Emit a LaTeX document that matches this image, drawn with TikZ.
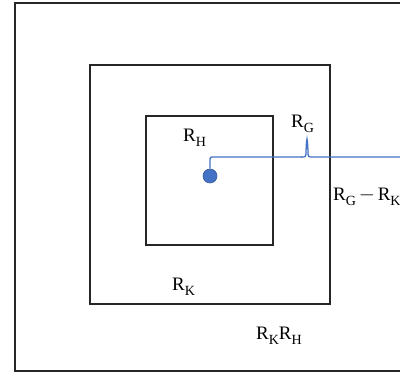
\documentclass[tikz,border=0pt]{standalone}
\usepackage{fontspec}
\setmainfont{Liberation Serif}
\definecolor{lineblue}{HTML}{4472C4}
\definecolor{boxgray}{HTML}{262626}
\newcommand{\Rsub}[1]{R\raisebox{-0.22em}{\fontsize{14}{15}\selectfont #1}}
\begin{document}
\begin{tikzpicture}[x=1pt,y=-1pt,
  boxline/.style={draw=boxgray,line width=1.6pt},
  lab/.style={anchor=base west,inner sep=0pt,font=\fontsize{19}{21}\selectfont},
  bluel/.style={draw=lineblue,line width=1.3pt,rounded corners=2pt}]
\useasboundingbox (0,0) rectangle (400,374);
\clip (0,0) rectangle (400,374);
% regions
\draw[boxline] (15,3) rectangle (420,371);
\draw[boxline] (90,65) rectangle (330,304);
\draw[boxline] (146,116) rectangle (273,245);
% labels
\node[lab] (rh) at (183,142) {\Rsub{H}};
\node[lab] (rg) at (291,128) {\Rsub{G}};
\node[lab] (rgk) at (333,201) {\Rsub{G}\hspace{0.15em}{\fontsize{21}{21}\selectfont$-$}\hspace{0.15em}\Rsub{K}};
\node[lab] (rk) at (172,291) {\Rsub{K}};
\node[lab] (rkh) at (256,340) {\Rsub{K}\Rsub{H}};
% dot and line
\node[circle,fill=lineblue,draw=lineblue!80!black,line width=0.6pt,minimum size=14pt,inner sep=0pt] (dot) at (210,176) {};
\coordinate (lineend) at (405,157);
\draw[bluel] (dot.north) -- (dot.north |- lineend) -- (302,157);
\draw[lineblue,line width=1.3pt] (301,157) .. controls (306,157) .. (306,151) -- (306.5,142) -- (307,139) -- (307.5,142) -- (308,151) .. controls (308,157) .. (313,157) -- (lineend);
\end{tikzpicture}
\end{document}
